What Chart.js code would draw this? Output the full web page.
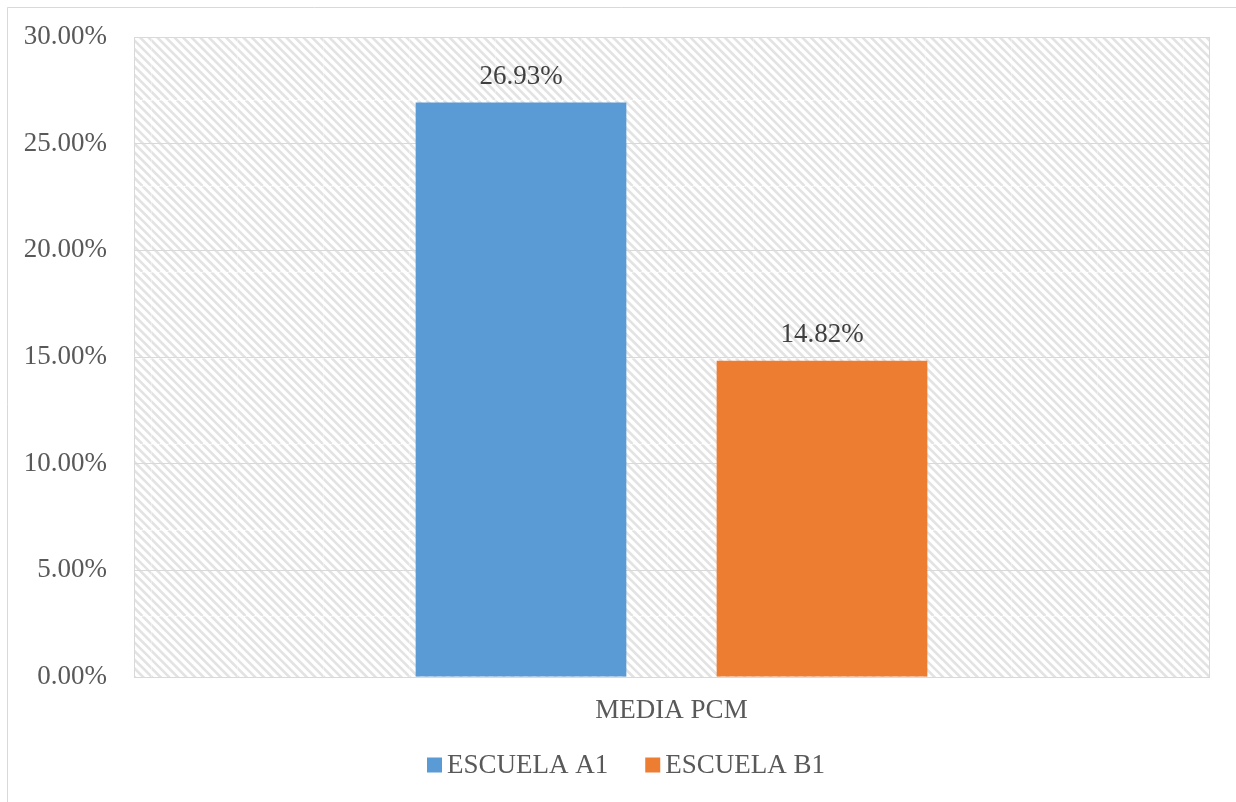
<!DOCTYPE html>
<html>
<head>
<meta charset="utf-8">
<script src="https://cdn.jsdelivr.net/npm/chart.js@4/dist/chart.umd.min.js"></script>
<style>
  html, body { margin: 0; padding: 0; background: #ffffff; }
  #wrap { position: relative; width: 1236px; height: 802px; }
  canvas { display: block; }
</style>
</head>
<body>
<div id="wrap"><canvas id="c" width="1236" height="802"></canvas></div>
<script>
// Chart data
const categories = ['MEDIA PCM'];
const seriesNames = ['ESCUELA A1', 'ESCUELA B1'];
const escuelaA1 = [26.93];
const escuelaB1 = [14.82];
const seriesColors = ['#5B9BD5', '#ED7D31'];
const yTicks = { min: 0, max: 30, step: 5 };

const FONT = '"Liberation Serif", "Times New Roman", serif';
const FONT_SIZE = 27;
const TEXT = '#595959';

// Diagonal hatch tile for the plot background
function makeHatch(ctx) {
  const size = 86;
  const tile = document.createElement('canvas');
  tile.width = size; tile.height = size;
  const t = tile.getContext('2d');
  t.fillStyle = '#ffffff';
  t.fillRect(0, 0, size, size);
  t.strokeStyle = '#e3e3e3';
  t.lineWidth = 2.6;
  const step = size / 10;
  for (let x0 = -size; x0 <= size; x0 += step) {
    t.beginPath();
    t.moveTo(x0, 0);
    t.lineTo(x0 + size, size);
    t.stroke();
  }
  t.fillStyle = 'rgba(255,255,255,0.35)';
  t.fillRect(0, 0, size, 1);
  t.fillRect(0, 0, 1, size);
  const p = ctx.createPattern(tile, 'repeat');
  if (p.setTransform) p.setTransform(new DOMMatrix().translate(65, 14));
  return p;
}

const framePlugin = {
  id: 'frame',
  beforeDraw(chart) {
    const { ctx, chartArea: a } = chart;
    ctx.save();
    ctx.fillStyle = '#ffffff';
    ctx.fillRect(0, 0, chart.width, chart.height);
    // outer chart border
    ctx.strokeStyle = '#d9d9d9';
    ctx.lineWidth = 1;
    ctx.beginPath();
    ctx.moveTo(7.5, chart.height);
    ctx.lineTo(7.5, 7.5);
    ctx.lineTo(chart.width, 7.5);
    ctx.stroke();
    // hatched plot area
    ctx.fillStyle = makeHatch(ctx);
    ctx.fillRect(a.left, a.top, a.right - a.left, a.bottom - a.top);
    ctx.restore();
  }
};

const valueLabels = {
  id: 'valueLabels',
  afterDatasetsDraw(chart) {
    const { ctx } = chart;
    ctx.save();
    ctx.font = FONT_SIZE + 'px ' + FONT;
    ctx.fillStyle = '#404040';
    ctx.textAlign = 'center';
    ctx.textBaseline = 'middle';
    chart.data.datasets.forEach((ds, i) => {
      chart.getDatasetMeta(i).data.forEach((bar, j) => {
        ctx.fillText(ds.data[j].toFixed(2) + '%', bar.x, bar.y - 26);
      });
    });
    ctx.restore();
  }
};

const bottomLegend = {
  id: 'bottomLegend',
  afterDraw(chart) {
    const { ctx } = chart;
    ctx.save();
    ctx.font = FONT_SIZE + 'px ' + FONT;
    ctx.textBaseline = 'middle';
    const box = 15, gapText = 5, gapItem = 37;
    const items = chart.data.datasets.map(ds => ({ label: ds.label, color: ds.backgroundColor, w: ctx.measureText(ds.label).width }));
    let total = 0;
    items.forEach((it, i) => { total += box + gapText + it.w + (i ? gapItem : 0); });
    let x = 626 - total / 2;
    const y = 765;
    items.forEach(it => {
      ctx.fillStyle = it.color;
      ctx.fillRect(x, y - box / 2, box, box);
      ctx.fillStyle = TEXT;
      ctx.textAlign = 'left';
      ctx.fillText(it.label, x + box + gapText, y + 1);
      x += box + gapText + it.w + gapItem;
    });
    ctx.restore();
  }
};

new Chart(document.getElementById('c'), {
  type: 'bar',
  data: {
    labels: categories,
    datasets: [
      { label: seriesNames[0], data: escuelaA1, backgroundColor: seriesColors[0] },
      { label: seriesNames[1], data: escuelaB1, backgroundColor: seriesColors[1] }
    ]
  },
  options: {
    responsive: false,
    animation: false,
    devicePixelRatio: 1,
    categoryPercentage: 0.56,
    barPercentage: 0.70,
    layout: { padding: { top: 37, right: 27, left: 0, bottom: 0 } },
    plugins: {
      legend: { display: false },
      tooltip: { enabled: false }
    },
    scales: {
      x: {
        grid: { color: '#d9d9d9', lineWidth: 1, drawTicks: false },
        border: { color: '#d9d9d9' },
        ticks: { color: TEXT, font: { family: FONT, size: FONT_SIZE }, padding: 18 },
        afterFit(scale) { scale.height = 125; }
      },
      y: {
        min: yTicks.min,
        max: yTicks.max,
        grid: { color: '#d9d9d9', lineWidth: 1, drawTicks: false },
        border: { color: '#d9d9d9' },
        ticks: {
          stepSize: yTicks.step,
          color: TEXT,
          font: { family: FONT, size: FONT_SIZE },
          padding: 27,
          callback: v => v.toFixed(2) + '%'
        },
        afterFit(scale) { scale.width = 134; scale.paddingTop = 0; }
      }
    }
  },
  plugins: [framePlugin, valueLabels, bottomLegend]
});
</script>
</body>
</html>
